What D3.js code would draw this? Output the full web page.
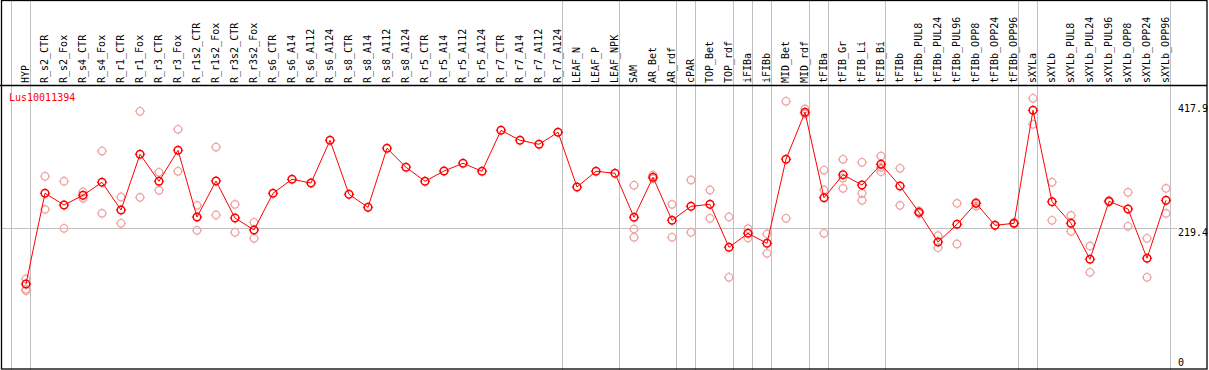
<!DOCTYPE html>
<html>
<head>
<meta charset="utf-8">
<script src="https://cdn.jsdelivr.net/npm/d3@7/dist/d3.min.js"></script>
<style>
  body { margin: 0; background: #fff; }
  text { font-family: "DejaVu Sans Mono", monospace; font-size: 10px; }
</style>
</head>
<body>
<div id="chart"></div>
<script>
// gene shown in the panel
let geneName = "Lus10011394";

// sample columns, left to right
let samples = ["HYP",
  "R_s2_CTR", "R_s2_Fox", "R_s4_CTR", "R_s4_Fox", "R_r1_CTR", "R_r1_Fox", "R_r3_CTR", "R_r3_Fox",
  "R_r1s2_CTR", "R_r1s2_Fox", "R_r3s2_CTR", "R_r3s2_Fox",
  "R_s6_CTR", "R_s6_A14", "R_s6_A112", "R_s6_A124", "R_s8_CTR", "R_s8_A14", "R_s8_A112", "R_s8_A124",
  "R_r5_CTR", "R_r5_A14", "R_r5_A112", "R_r5_A124", "R_r7_CTR", "R_r7_A14", "R_r7_A112", "R_r7_A124",
  "LEAF_N", "LEAF_P", "LEAF_NPK", "SAM", "AR_Bet", "AR_rdf", "cPAR", "TOP_Bet", "TOP_rdf",
  "iFIBa", "iFIBb", "MID_Bet", "MID_rdf", "tFIBa", "tFIB_Gr", "tFIB_Li", "tFIB_Bi",
  "tFIBb", "tFIBb_PUL8", "tFIBb_PUL24", "tFIBb_PUL96", "tFIBb_OPP8", "tFIBb_OPP24", "tFIBb_OPP96",
  "sXYLa", "sXYLb", "sXYLb_PUL8", "sXYLb_PUL24", "sXYLb_PUL96", "sXYLb_OPP8", "sXYLb_OPP24", "sXYLb_OPP96"];

// number of columns in each tissue group (separated by grey lines)
let groupSizes = [1, 28, 3, 3, 1, 2, 1, 1, 2, 1, 3, 7, 1, 7];

// mean expression per sample
let means = [130.3,
  275.5, 256.7, 272.2, 293.1, 248.7, 337.9, 294.7, 344.3,
  237.5, 295.1, 235.9, 216.7,
  275.5, 297.9, 291.9, 360.3, 273.8, 253.0, 347.5, 317.1,
  294.7, 311.1, 323.5, 310.7, 376.3, 360.3, 353.9, 373.1,
  285.5, 310.7, 307.5, 237.0, 301.1, 232.2, 254.6, 257.8, 189.0,
  211.4, 195.4, 329.9, 405.1, 268.4, 305.2, 288.7, 321.9,
  287.1, 245.0, 197.5, 225.8, 259.4, 224.2, 227.4,
  408.3, 262.0, 227.4, 169.8, 262.6, 250.3, 171.4, 264.2];

// individual replicate values per sample
let replicates = [[138.3, 121.8, 119.6],
  [302.7, 249.8], [294.7, 219.4], [277.5, 267.4], [343.1, 243.4], [269.5, 227.4], [406.7, 269.0], [309.1, 280.2], [377.9, 310.7],
  [256.2, 216.2], [349.5, 240.7], [257.8, 213.0], [229.0, 203.4],
  [], [], [], [], [], [], [], [],
  [], [], [], [], [], [], [], [],
  [], [], [], [288.3, 218.3, 205.0], [304.7, 298.8], [257.8, 205.0], [296.7, 213.0], [280.7, 235.4], [237.5, 141.0],
  [218.8, 203.9], [210.3, 179.4], [422.7, 235.4], [410.4, 402.4], [312.7, 280.7, 211.4], [329.9, 299.9, 283.4], [325.1, 275.5, 264.2], [335.1, 317.1, 310.0],
  [315.5, 256.2], [247.1, 243.1], [207.6, 188.4], [259.4, 194.3], [261.0, 255.1], [224.2], [228.5, 226.3],
  [427.5, 385.9], [293.1, 232.2], [240.2, 214.6], [191.1, 149.0], [263.6, 261.5], [277.0, 222.6], [203.4, 141.0], [283.4, 243.4]];

// labels on the right hand axis
let tickValues = [0, 219.4, 417.9];
let gridValues = [219.4];

let width = 1209, height = 370;
let headerBottom = 85;

let svg = d3.select("#chart")
  .append("svg")
  .attr("width", width)
  .attr("height", height);

// column scale: one band per sample
let x = d3.scaleBand()
  .domain(samples)
  .range([11.7, 1170.7]);

function cx(name) {
  return x(name) + 14.3;
}

let y = d3.scaleLinear()
  .domain([0, 417.9])
  .range([365.4, 104.3]);

// horizontal grid line
svg.append("g")
  .selectAll("line")
  .data(gridValues)
  .enter().append("line")
  .attr("x1", 1.5)
  .attr("x2", 1177)
  .attr("y1", d => Math.round(y(d)) + 0.5)
  .attr("y2", d => Math.round(y(d)) + 0.5)
  .attr("stroke", "#c0c0c0");

// group separators
let bounds = [0];
groupSizes.forEach(s => bounds.push(bounds[bounds.length - 1] + s));
svg.append("g")
  .selectAll("line")
  .data(bounds)
  .enter().append("line")
  .attr("x1", d => Math.round(11.7 + d * x.step()) - 0.5)
  .attr("x2", d => Math.round(11.7 + d * x.step()) - 0.5)
  .attr("y1", 0)
  .attr("y2", height)
  .attr("stroke", "#c0c0c0");

// header / frame lines
svg.append("line")
  .attr("x1", 0).attr("x2", 1207)
  .attr("y1", headerBottom + 0.5).attr("y2", headerBottom + 0.5)
  .attr("stroke", "black").attr("stroke-width", 1.5);

svg.append("rect")
  .attr("x", 1.5).attr("y", 0.5)
  .attr("width", 1205.5).attr("height", 368.5)
  .attr("fill", "none")
  .attr("stroke", "black")
  .attr("stroke-width", 1.3);

// rotated sample names
svg.append("g")
  .selectAll("text")
  .data(samples)
  .enter().append("text")
  .attr("transform", d => "translate(" + (cx(d) + 3) + "," + (headerBottom - 2) + ") rotate(-90)")
  .attr("fill", "black")
  .text(d => d);

// right axis values
svg.append("g")
  .selectAll("text")
  .data(tickValues)
  .enter().append("text")
  .attr("x", 1178)
  .attr("y", d => Math.min(y(d) + 7.5, y(0) + 0.8))
  .attr("fill", "black")
  .text(d => d);

// gene name
svg.append("text")
  .attr("x", 9)
  .attr("y", 101)
  .attr("fill", "red")
  .text(geneName);

// marker: small circle with four short ticks
function marker(g, color, sw) {
  g.append("circle")
    .attr("r", 3.8)
    .attr("fill", "none")
    .attr("stroke", color)
    .attr("stroke-width", sw);
  g.append("path")
    .attr("d", "M0,-4V-5.2M0,4V5.2M-4,0H-5.2M4,0H5.2")
    .attr("stroke", color)
    .attr("stroke-width", 0.9);
}

// replicate markers
let reps = [];
samples.forEach((s, i) => replicates[i].forEach(v => reps.push({ name: s, value: v })));

svg.append("g")
  .selectAll("g")
  .data(reps)
  .enter().append("g")
  .attr("transform", d => "translate(" + cx(d.name) + "," + y(d.value) + ")")
  .each(function () { marker(d3.select(this), "#f0a0a0", 1.2); });

// mean line
let line = d3.line()
  .x((d, i) => cx(samples[i]))
  .y(d => y(d));

svg.append("path")
  .datum(means)
  .attr("d", line)
  .attr("fill", "none")
  .attr("stroke", "red")
  .attr("stroke-width", 1);

// mean markers
svg.append("g")
  .selectAll("g")
  .data(means)
  .enter().append("g")
  .attr("transform", (d, i) => "translate(" + cx(samples[i]) + "," + y(d) + ")")
  .each(function () { marker(d3.select(this), "red", 1.5); });
</script>
</body>
</html>
